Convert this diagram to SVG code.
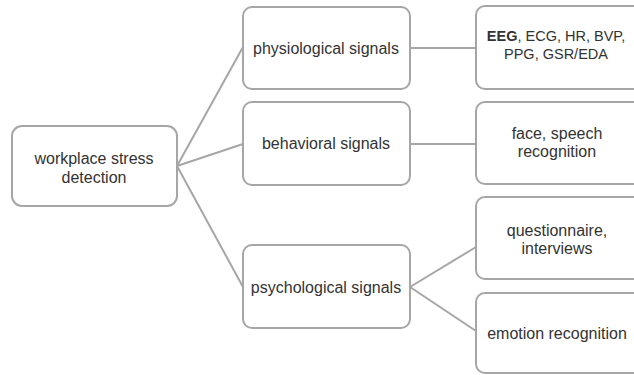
<svg xmlns="http://www.w3.org/2000/svg" width="634" height="375" viewBox="0 0 634 375">
<style>
.box{fill:#fff;stroke:#a6a6a6;stroke-width:2}
.t{font-family:"Liberation Sans",Arial,sans-serif;font-size:16px;fill:#333;text-anchor:middle}
.t.sm{font-size:14.5px}
.c{stroke:#a6a6a6;stroke-width:2;fill:none}
</style>
<rect width="634" height="375" fill="#fff"/>
<g id="connectors">
<line class="c" x1="177" y1="166" x2="243" y2="47"/>
<line class="c" x1="177" y1="166" x2="243" y2="144"/>
<line class="c" x1="177" y1="166" x2="243" y2="287"/>
<line class="c" x1="410" y1="48" x2="476" y2="48"/>
<line class="c" x1="410" y1="144" x2="476" y2="144"/>
<line class="c" x1="410" y1="287" x2="476" y2="247"/>
<line class="c" x1="410" y1="287" x2="476" y2="331"/>
</g>
<g id="root">
<rect class="box" x="12" y="126" width="165" height="80" rx="10"/>
<text class="t" x="94" y="164">workplace stress</text>
<text class="t" x="94" y="183">detection</text>
</g>
<g id="physiological">
<rect class="box" x="243" y="7" width="167" height="82" rx="9"/>
<text class="t" x="326" y="54">physiological signals</text>
</g>
<g id="behavioral">
<rect class="box" x="243" y="102" width="167" height="83" rx="9"/>
<text class="t" x="326" y="149">behavioral signals</text>
</g>
<g id="psychological">
<rect class="box" x="243" y="245" width="167" height="83" rx="9"/>
<text class="t" x="326" y="293">psychological signals</text>
</g>
<g id="physio-list">
<rect class="box" x="476" y="6" width="170" height="83" rx="9"/>
<text class="t sm" x="556" y="41"><tspan font-weight="bold">EEG</tspan>, ECG, HR, BVP,</text>
<text class="t sm" x="556" y="59">PPG, GSR/EDA</text>
</g>
<g id="behav-list">
<rect class="box" x="476" y="102" width="170" height="82" rx="9"/>
<text class="t" x="557" y="139">face, speech</text>
<text class="t" x="557" y="157">recognition</text>
</g>
<g id="questionnaire">
<rect class="box" x="476" y="197" width="170" height="82" rx="9"/>
<text class="t" x="557" y="236">questionnaire,</text>
<text class="t" x="557" y="254">interviews</text>
</g>
<g id="emotion">
<rect class="box" x="476" y="293" width="170" height="80" rx="9"/>
<text class="t" x="557" y="339">emotion recognition</text>
</g>
</svg>
